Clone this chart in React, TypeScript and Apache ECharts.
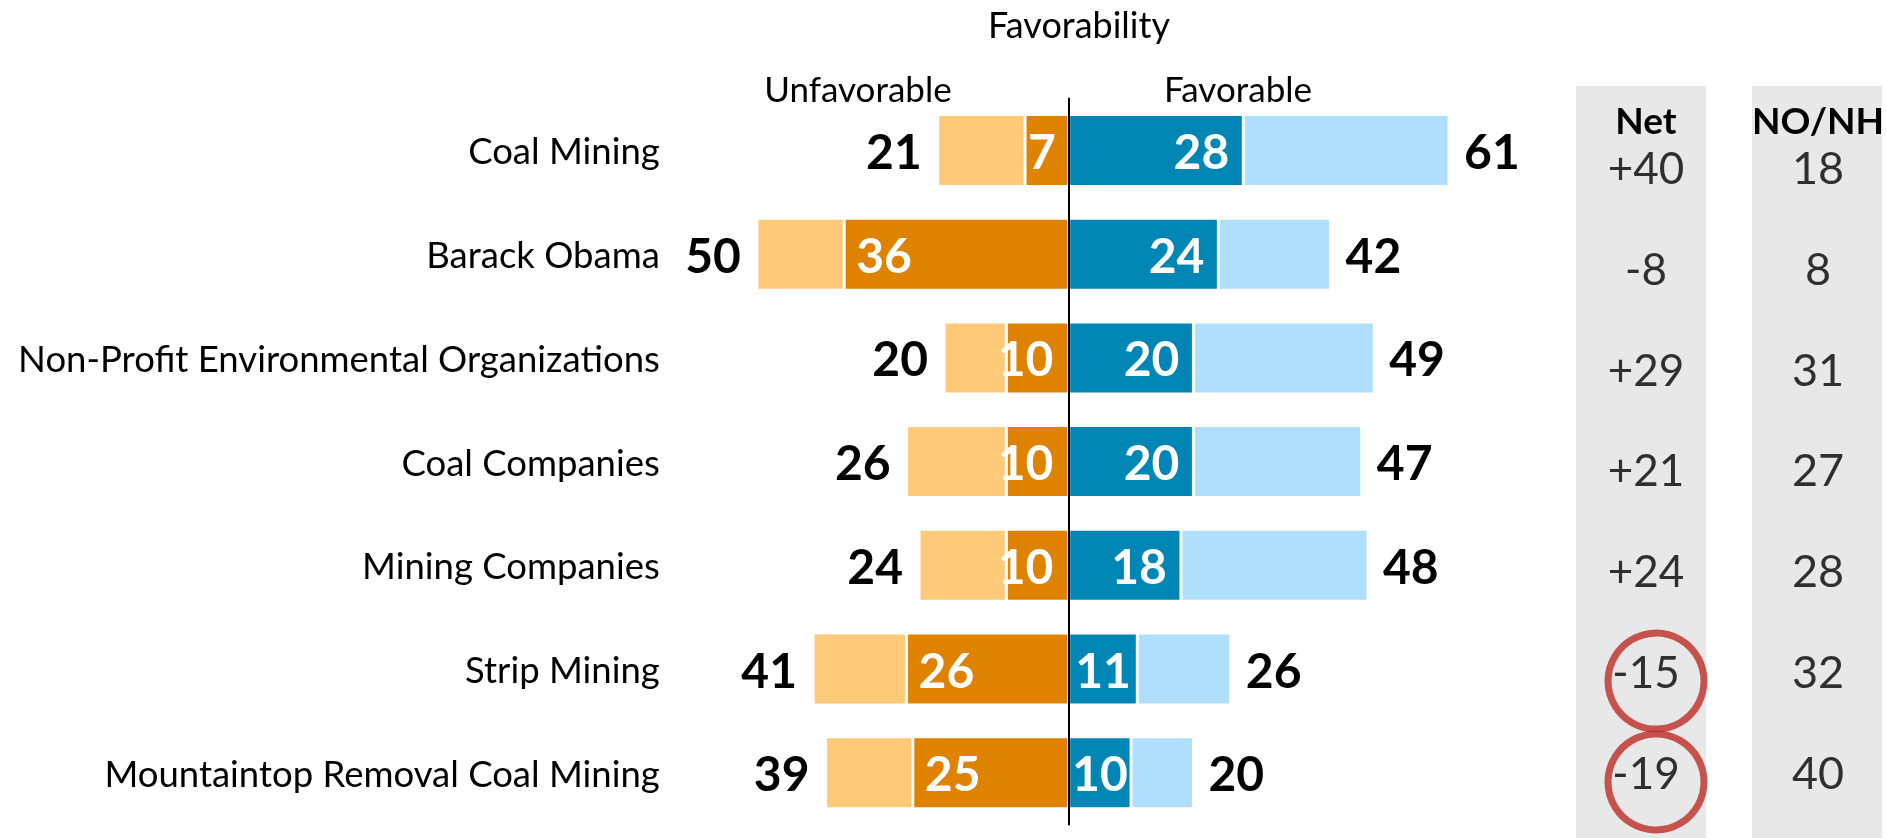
import React, { useEffect, useRef } from 'react';
import * as echarts from 'echarts';

const categories = [
  'Coal Mining',
  'Barack Obama',
  'Non-Profit Environmental Organizations',
  'Coal Companies',
  'Mining Companies',
  'Strip Mining',
  'Mountaintop Removal Coal Mining',
];
const unfavTotal = [21, 50, 20, 26, 24, 41, 39];
const unfavStrong = [7, 36, 10, 10, 10, 26, 25];
const favTotal = [61, 42, 49, 47, 48, 26, 20];
const favStrong = [28, 24, 20, 20, 18, 11, 10];
const noOpinion = [18, 8, 31, 27, 28, 32, 40];
const circledRows = ['Strip Mining', 'Mountaintop Removal Coal Mining'];
const sideColumns = ['Net', 'NO/NH'];

const FONT = 'Lato, "Open Sans", sans-serif';
const C_DARK_OR = '#DF8200';
const C_LIGHT_OR = '#FFC97A';
const C_DARK_BL = '#0086B4';
const C_LIGHT_BL = '#B0DFFE';

export default function App() {
  const ref = useRef<HTMLDivElement>(null);
  useEffect(() => {
    if (!ref.current) return;
    const chart = echarts.init(ref.current, null, { renderer: 'svg' });
    const net = favTotal.map((f, i) => f - unfavTotal[i]);
    const netText = net.map((v) => (v > 0 ? '+' + v : String(v)));
    const top = 98.6;
    const height = 726;
    const zero = 1068.7;
    const unit = 6.236;
    const gridLeft = zero - 80 * unit;
    const gridW = 160 * unit;
    const bigLabel = { fontFamily: FONT, fontSize: 48, fontWeight: 'bold' as const };
    const border = { borderColor: '#ffffff', borderWidth: 1.5 };
    const narrow = (v: number) => v <= 11;

    chart.setOption({
      animation: false,
      grid: [
        { left: gridLeft, width: gridW, top, height, containLabel: false, outerBoundsMode: 'none' },
        { left: 1646, width: 172, top: 116.4, height: 706, containLabel: false, outerBoundsMode: 'none' },
      ],
      xAxis: [
        { type: 'value', gridIndex: 0, min: -80, max: 80, show: false },
        {
          type: 'category',
          gridIndex: 1,
          data: sideColumns,
          boundaryGap: false,
          position: 'top',
          offset: -22,
          axisLine: { show: false },
          axisTick: { show: false },
          axisLabel: {
            fontFamily: FONT, fontSize: 37, fontWeight: 'bold', color: '#000', margin: 4, lineHeight: 30,
            interval: 0, showMinLabel: true, showMaxLabel: true, hideOverlap: false,
          },
        },
      ],
      yAxis: [
        {
          type: 'category',
          gridIndex: 0,
          data: categories,
          inverse: true,
          z: 10,
          axisLine: { show: true, onZero: true, lineStyle: { color: '#000', width: 2 } },
          axisTick: { show: false },
          axisLabel: { fontFamily: FONT, fontSize: 36.5, color: '#000', margin: -90, interval: 0 },
        },
        { type: 'category', gridIndex: 1, data: categories, inverse: true, show: false },
      ],
      graphic: [
        { type: 'rect', z: -10, shape: { x: 1576, y: 86, width: 130, height: 752 }, style: { fill: '#E8E8E8' } },
        { type: 'rect', z: -10, shape: { x: 1752, y: 86, width: 130, height: 752 }, style: { fill: '#E8E8E8' } },
        { type: 'text', x: 1079, y: 24, style: { text: 'Favorability', font: `36px ${FONT}`, fill: '#000', align: 'center', verticalAlign: 'middle' } },
        { type: 'text', x: 858, y: 88, style: { text: 'Unfavorable', font: `35px ${FONT}`, fill: '#000', align: 'center', verticalAlign: 'middle' } },
        { type: 'text', x: 1238, y: 88, style: { text: 'Favorable', font: `35px ${FONT}`, fill: '#000', align: 'center', verticalAlign: 'middle' } },
      ],
      series: [
        {
          name: 'Very unfavorable',
          type: 'bar',
          stack: 'all',
          barWidth: 72,
          data: unfavStrong.map((v) => ({
            value: -v,
            label: narrow(v)
              ? { position: 'inside', offset: [v >= 10 ? -12 : -5, 0] }
              : { position: 'insideLeft', distance: 12 },
          })),
          itemStyle: { color: C_DARK_OR, ...border },
          label: { show: true, color: '#fff', ...bigLabel, formatter: (p: any) => String(unfavStrong[p.dataIndex]) },
        },
        {
          name: 'Somewhat unfavorable',
          type: 'bar',
          stack: 'all',
          barWidth: 72,
          data: unfavTotal.map((v, i) => -(v - unfavStrong[i])),
          itemStyle: { color: C_LIGHT_OR, ...border },
          label: { show: true, position: 'left', distance: 16, color: '#000', ...bigLabel, formatter: (p: any) => String(unfavTotal[p.dataIndex]) },
        },
        {
          name: 'Very favorable',
          type: 'bar',
          stack: 'all',
          barWidth: 72,
          data: favStrong.map((v) => ({
            value: v,
            label: narrow(v) ? { position: 'inside' } : { position: 'insideRight', distance: 14 },
          })),
          itemStyle: { color: C_DARK_BL, ...border },
          label: { show: true, color: '#fff', ...bigLabel },
        },
        {
          name: 'Somewhat favorable',
          type: 'bar',
          stack: 'all',
          barWidth: 72,
          data: favTotal.map((v, i) => v - favStrong[i]),
          itemStyle: { color: C_LIGHT_BL, ...border },
          label: { show: true, position: 'right', distance: 15, color: '#000', ...bigLabel, formatter: (p: any) => String(favTotal[p.dataIndex]) },
        },
        {
          name: 'Net',
          type: 'scatter',
          xAxisIndex: 1,
          yAxisIndex: 1,
          symbolSize: 1,
          itemStyle: { color: 'transparent' },
          data: categories.map((_, i) => [0, i]),
          label: { show: true, position: 'inside', lineHeight: 36, fontFamily: FONT, fontSize: 44, color: '#000', formatter: (p: any) => netText[p.dataIndex] },
        },
        {
          name: 'NO/NH',
          type: 'scatter',
          xAxisIndex: 1,
          yAxisIndex: 1,
          symbolSize: 1,
          itemStyle: { color: 'transparent' },
          data: categories.map((_, i) => [1, i]),
          label: { show: true, position: 'inside', lineHeight: 36, fontFamily: FONT, fontSize: 45, color: '#000', formatter: (p: any) => String(noOpinion[p.dataIndex]) },
        },
        {
          name: 'Highlight',
          type: 'scatter',
          xAxisIndex: 1,
          yAxisIndex: 1,
          symbol: 'circle',
          symbolSize: 96,
          symbolOffset: [10, 10],
          silent: true,
          z: 5,
          itemStyle: { color: 'transparent', borderColor: '#BE2A26', borderWidth: 7 },
          data: circledRows.map((name) => [0, categories.indexOf(name)]),
        },
      ],
    });
    return () => chart.dispose();
  }, []);
  return <div ref={ref} style={{ position: 'fixed', left: 0, top: 0, width: 1887, height: 838 }} />;
}
